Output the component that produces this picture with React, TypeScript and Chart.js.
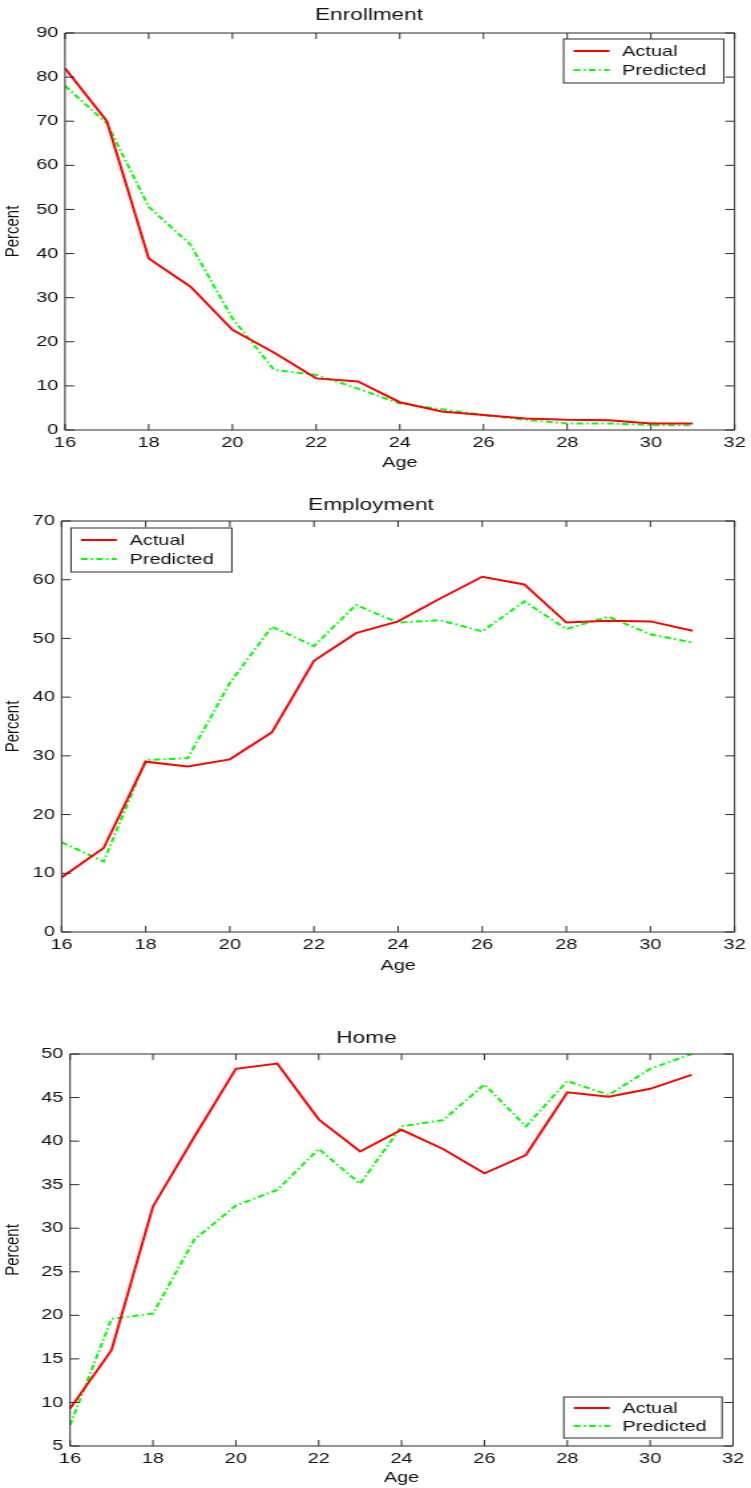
import React, { useEffect, useRef } from 'react';
import { Chart, registerables } from 'chart.js';

Chart.register(...registerables);

// ---------------- data ----------------
const ages = [16, 17, 18, 19, 20, 21, 22, 23, 24, 25, 26, 27, 28, 29, 30, 31];

const enrollActual = [82, 70, 38.9, 32.5, 22.7, 17.5, 11.7, 11, 6.3, 4.2, 3.4, 2.6, 2.3, 2.2, 1.5, 1.5];
const enrollPredicted = [78, 69.5, 50.6, 42, 25.3, 13.6, 12.5, 9.4, 6, 4.7, 3.4, 2.3, 1.5, 1.5, 1.1, 1.1];

const employActual = [9.3, 14.3, 29, 28.2, 29.4, 34, 46.2, 50.9, 52.9, 56.8, 60.5, 59.2, 52.7, 53, 52.9, 51.3];
const employPredicted = [15.3, 12, 29.3, 29.6, 42.4, 52, 48.7, 55.7, 52.7, 53.1, 51.2, 56.3, 51.6, 53.7, 50.7, 49.3];

const homeActual = [9.3, 16, 32.5, 40.5, 48.3, 48.9, 42.5, 38.8, 41.3, 39.1, 36.3, 38.4, 45.6, 45.1, 46, 47.6];
const homePredicted = [7.4, 19.6, 20.2, 28.7, 32.6, 34.4, 39.1, 35.1, 41.7, 42.4, 46.5, 41.7, 46.9, 45.3, 48.3, 50];

const seriesLabels = ['Actual', 'Predicted'];
const xAxisLabel = 'Age';
const yAxisLabel = 'Percent';
const xMin = 16;
const xMax = 32;
const xStep = 2;

// ---------------- styling ----------------
const PAGE_W = 751;
const INNER_W = 565; // canvas drawn narrower and stretched horizontally, like the reference
const FONT = '"Liberation Sans", Arial, Helvetica, sans-serif';
const TEXT = '#111111';
const AXIS = '#2a2a2a';
const RED = '#ff0000';
const GREEN = '#00ff00';

type Spec = {
  title: string;
  actual: number[];
  predicted: number[];
  yMin: number;
  yMax: number;
  yStep: number;
  top: number;
  height: number;
  plotLeft: number;
  rightPad: number;
  plotTop: number;
  plotBottom: number;
  titleCenter: number;
  ageCenter: number;
  legend: { corner: string; dx: number; dy: number; w: number; h: number; r1: number; r2: number };
};

const specs: Spec[] = [
  {
    title: 'Enrollment', actual: enrollActual, predicted: enrollPredicted,
    yMin: 0, yMax: 90, yStep: 10,
    top: 0, height: 480, plotLeft: 48.9, rightPad: 9.8, plotTop: 33, plotBottom: 430,
    titleCenter: 15.5, ageCenter: 463,
    legend: { corner: 'tr', dx: 8.2, dy: 6, w: 120.4, h: 44, r1: 12, r2: 31 },
  },
  {
    title: 'Employment', actual: employActual, predicted: employPredicted,
    yMin: 0, yMax: 70, yStep: 10,
    top: 490, height: 500, plotLeft: 46.3, rightPad: 6.8, plotTop: 31, plotBottom: 442,
    titleCenter: 15.5, ageCenter: 476,
    legend: { corner: 'tl', dx: 7.1, dy: 7, w: 121, h: 44, r1: 12, r2: 31 },
  },
  {
    title: 'Home', actual: homeActual, predicted: homePredicted,
    yMin: 5, yMax: 50, yStep: 5,
    top: 1020, height: 468, plotLeft: 52.7, rightPad: 13.5, plotTop: 34, plotBottom: 426,
    titleCenter: 18.5, ageCenter: 458,
    legend: { corner: 'br', dx: 8.3, dy: 8, w: 119, h: 41, r1: 11, r2: 29 },
  },
];

const axesPlugin = {
  id: 'matlabAxes',
  afterDatasetsDraw(chart: any) {
    const { ctx, chartArea, scales } = chart;
    const { left, right, top, bottom } = chartArea;
    const x = scales.x;
    const y = scales.y;
    ctx.save();
    ctx.strokeStyle = AXIS;
    ctx.lineWidth = 1;
    ctx.beginPath();
    ctx.rect(left, top, right - left, bottom - top);
    x.ticks.forEach((t: any) => {
      const px = x.getPixelForValue(t.value);
      ctx.moveTo(px, bottom);
      ctx.lineTo(px, bottom - 6);
      ctx.moveTo(px, top);
      ctx.lineTo(px, top + 6);
    });
    y.ticks.forEach((t: any) => {
      const py = y.getPixelForValue(t.value);
      ctx.moveTo(left, py);
      ctx.lineTo(left + 7, py);
      ctx.moveTo(right, py);
      ctx.lineTo(right - 7, py);
    });
    ctx.stroke();
    ctx.restore();
  },
};

function makeLegendPlugin(lg: Spec['legend']) {
  return {
    id: 'matlabLegend',
    afterDraw(chart: any) {
      const { ctx, chartArea } = chart;
      const bx = lg.corner.includes('l') ? chartArea.left + lg.dx : chartArea.right - lg.dx - lg.w;
      const by = lg.corner.startsWith('t') ? chartArea.top + lg.dy : chartArea.bottom - lg.dy - lg.h;
      ctx.save();
      ctx.fillStyle = '#ffffff';
      ctx.fillRect(bx, by, lg.w, lg.h);
      ctx.strokeStyle = AXIS;
      ctx.lineWidth = 1;
      ctx.strokeRect(bx, by, lg.w, lg.h);
      const rows = [lg.r1, lg.r2];
      chart.data.datasets.forEach((ds: any, i: number) => {
        const ry = by + rows[i];
        ctx.beginPath();
        ctx.strokeStyle = ds.borderColor;
        ctx.lineWidth = ds.borderWidth;
        ctx.setLineDash(ds.borderDash || []);
        ctx.moveTo(bx + 7.5, ry);
        ctx.lineTo(bx + 34.5, ry);
        ctx.stroke();
        ctx.setLineDash([]);
        ctx.fillStyle = TEXT;
        ctx.font = `15px ${FONT}`;
        ctx.textBaseline = 'middle';
        ctx.textAlign = 'left';
        ctx.fillText(ds.label, bx + 44, ry + 0.5);
      });
      ctx.restore();
    },
  };
}

function buildConfig(s: Spec): any {
  const titleLH = 17 * 1.2;
  const titlePadTop = s.titleCenter - titleLH / 2;
  const titlePadBottom = s.plotTop - titleLH - titlePadTop;
  const axisLH = 15 * 1.2;
  return {
    type: 'line',
    data: {
      datasets: [
        {
          label: seriesLabels[0],
          data: ages.map((a, i) => ({ x: a, y: s.actual[i] })),
          borderColor: RED,
          backgroundColor: RED,
          borderWidth: 2,
          pointRadius: 0,
          tension: 0,
          fill: false,
        },
        {
          label: seriesLabels[1],
          data: ages.map((a, i) => ({ x: a, y: s.predicted[i] })),
          borderColor: GREEN,
          backgroundColor: GREEN,
          borderWidth: 2,
          borderDash: [5, 2.5, 1.5, 2.5],
          pointRadius: 0,
          tension: 0,
          fill: false,
        },
      ],
    },
    options: {
      animation: false,
      responsive: false,
      devicePixelRatio: 1,
      events: [],
      layout: { autoPadding: false, padding: { left: 0, right: s.rightPad, top: 0, bottom: 0 } },
      plugins: {
        legend: { display: false },
        tooltip: { enabled: false },
        title: {
          display: true,
          text: s.title,
          color: TEXT,
          font: { family: FONT, size: 17, weight: 'normal', lineHeight: 1.2 },
          padding: { top: titlePadTop, bottom: titlePadBottom },
        },
      },
      scales: {
        x: {
          type: 'linear',
          min: xMin,
          max: xMax,
          grid: { display: false, drawTicks: false },
          border: { display: false },
          ticks: { stepSize: xStep, color: TEXT, font: { family: FONT, size: 15 }, padding: 4, maxRotation: 0 },
          title: {
            display: true,
            text: xAxisLabel,
            color: TEXT,
            font: { family: FONT, size: 15, lineHeight: 1.2 },
            padding: { top: 0, bottom: s.height - s.ageCenter - axisLH / 2 },
          },
          afterFit: (scale: any) => { scale.height = s.height - s.plotBottom; },
        },
        y: {
          type: 'linear',
          min: s.yMin,
          max: s.yMax,
          grid: { display: false, drawTicks: false },
          border: { display: false },
          ticks: { stepSize: s.yStep, color: TEXT, font: { family: FONT, size: 15 }, padding: 5 },
          title: {
            display: true,
            text: yAxisLabel,
            color: TEXT,
            font: { family: FONT, size: 15, lineHeight: 1.2 },
            padding: { top: 10.2 - axisLH / 2, bottom: 0 },
          },
          afterFit: (scale: any) => { scale.width = s.plotLeft; },
        },
      },
    },
    plugins: [axesPlugin, makeLegendPlugin(s.legend)],
  };
}

function Panel({ spec }: { spec: Spec }) {
  const ref = useRef<HTMLCanvasElement>(null);
  useEffect(() => {
    if (!ref.current) return;
    const chart = new Chart(ref.current, buildConfig(spec));
    return () => chart.destroy();
  }, [spec]);
  return (
    <canvas
      ref={ref}
      width={INNER_W}
      height={spec.height}
      style={{
        position: 'absolute',
        left: 0,
        top: spec.top,
        width: `${PAGE_W}px`,
        height: `${spec.height}px`,
      }}
    />
  );
}

export default function App() {
  return (
    <div style={{ position: 'absolute', left: 0, top: 0, width: PAGE_W, height: 1488, background: '#ffffff', overflow: 'hidden' }}>
      {specs.map((s) => (
        <Panel key={s.title} spec={s} />
      ))}
    </div>
  );
}
